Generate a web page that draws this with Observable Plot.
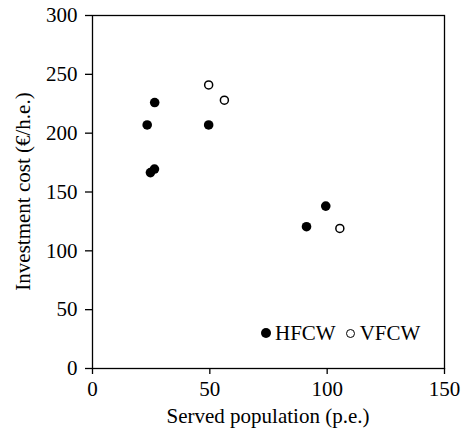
<!DOCTYPE html>
<html>
<head>
<meta charset="utf-8">
<script src="https://cdn.jsdelivr.net/npm/d3@7"></script>
<script src="https://cdn.jsdelivr.net/npm/@observablehq/plot@0.6"></script>
<style>
  html, body { margin: 0; padding: 0; background: #fff; }
  #wrap { position: relative; width: 461px; height: 435px; font-family: "Liberation Serif", "Times New Roman", serif; }
  #legend { position: absolute; left: 261px; top: 320px; font-size: 21px; line-height: 26px; display: flex; align-items: center; color: #000; white-space: nowrap; }
  #legend .sym { display: inline-block; box-sizing: border-box; border-radius: 50%; }
  #legend .f { width: 10px; height: 10px; background: #000; margin-right: 4px; }
  #legend .o { width: 9px; height: 9px; border: 1.5px solid #000; margin-left: 10px; margin-right: 5px; }
</style>
</head>
<body>
<div id="wrap">
  <div id="chart"></div>
  <div id="legend"><span class="sym f"></span>HFCW<span class="sym o"></span>VFCW</div>
</div>
<script>
const hfcwPopulation = [23.3, 26.5, 49.5, 24.7, 26.4, 91.2, 99.4];
const hfcwCost       = [207, 226, 207, 166.5, 169.5, 120.5, 138];
const vfcwPopulation = [49.5, 56.2, 105.4];
const vfcwCost       = [241, 228, 119];
const xTicks = [0, 50, 100, 150];
const yTicks = [0, 50, 100, 150, 200, 250, 300];
const xLabel = "Served population (p.e.)";
const yLabel = "Investment cost (€/h.e.)";

const hfcw = hfcwPopulation.map((x, i) => ({x, y: hfcwCost[i]}));
const vfcw = vfcwPopulation.map((x, i) => ({x, y: vfcwCost[i]}));

const chart = Plot.plot({
  width: 461,
  height: 435,
  marginLeft: 92,
  marginRight: 17,
  marginTop: 15,
  marginBottom: 67,
  style: {fontFamily: "'Liberation Serif', 'Times New Roman', serif", fontSize: "21px", color: "#000", background: "#fff"},
  x: {domain: [0, 150]},
  y: {domain: [0, 300]},
  marks: [
    Plot.frame({stroke: "#000", strokeWidth: 1.3}),
    Plot.axisX({ticks: xTicks, tickSize: 6, tickPadding: 7, fontSize: 21, label: null, strokeWidth: 1.3}),
    Plot.axisY({ticks: yTicks, tickSize: 7, tickPadding: 8, fontSize: 21, label: null, strokeWidth: 1.3}),
    Plot.dot(hfcw, {x: "x", y: "y", r: 4.8, fill: "#000", stroke: "none"}),
    Plot.dot(vfcw, {x: "x", y: "y", r: 4, fill: "#fff", stroke: "#000", strokeWidth: 1.5})
  ]
});
chart.style.display = "block";
const svg = d3.select(chart);
svg.append("text")
  .attr("x", (92 + 444) / 2).attr("y", 423)
  .attr("text-anchor", "middle").attr("font-size", 21).attr("fill", "#000")
  .text(xLabel);
svg.append("text")
  .attr("transform", `translate(30, ${(15 + 368) / 2}) rotate(-90)`)
  .attr("text-anchor", "middle").attr("font-size", 21).attr("fill", "#000")
  .text(yLabel);
document.getElementById("chart").appendChild(chart);
</script>
</body>
</html>
